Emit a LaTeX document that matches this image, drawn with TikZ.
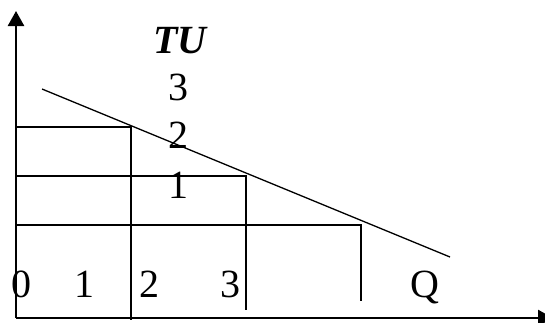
\documentclass[tikz,border=0pt]{standalone}
\usepackage{fontspec}
\setmainfont{Liberation Serif}
\usetikzlibrary{arrows.meta}
\begin{document}
\begin{tikzpicture}[x=1pt,y=-1pt,
  axis/.style={line width=2.5pt,-{Triangle[length=15pt,width=16pt]}},
  thin/.style={line width=1.3pt},
  lbl/.style={inner sep=0pt,anchor=base,font=\fontsize{40}{48}\selectfont}]
\useasboundingbox (0,0) rectangle (545,322);
\begin{scope}
\clip (0,0) rectangle (545,322);
\coordinate (O) at (16,318);
\coordinate (Ytop) at (16,11);
\coordinate (Xend) at (553,318);
\draw[axis] (O) -- (Ytop);
\draw[axis] (O) -- (Xend);
\end{scope}
% blocks
\draw[thin] (16,127) -- (131,127) -- (131,320);
\draw[thin] (16,176) -- (246,176) -- (246,310);
\draw[thin] (16,225) -- (361,225) -- (361,301);
% sloped line
\coordinate (L1) at (42,89);
\coordinate (L2) at (450,257);
\draw[thin] (L1) -- (L2);
% labels
\node[lbl,font=\fontsize{40}{48}\selectfont\bfseries\itshape] (tu) at (180,53) {TU};
\node[lbl] (n3) at (178,100) {3};
\node[lbl] (n2) at (178,148) {2};
\node[lbl] (n1) at (178,198) {1};
\node[lbl] (b0) at (22,297) {0};
\node[lbl] (b1) at (84,297) {1};
\node[lbl] (b2) at (149,297) {2};
\node[lbl] (b3) at (230,297) {3};
\node[lbl] (q) at (425,297) {Q};
\end{tikzpicture}
\end{document}
